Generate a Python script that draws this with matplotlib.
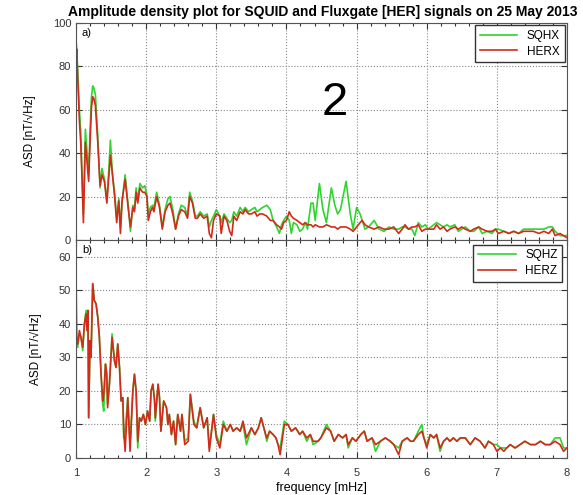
import matplotlib
matplotlib.use("Agg")
import matplotlib.pyplot as plt
import numpy as np

plt.rcParams['font.family'] = ['Liberation Sans', 'DejaVu Sans']

# ---------- data ----------
# panel a) : SQHX (green) and HERX (red)
f_a = [1.00, 1.01, 1.024, 1.048, 1.067, 1.086, 1.105, 1.133, 1.152, 1.18, 1.20, 1.22, 1.238, 1.255,
       1.276, 1.31, 1.343, 1.37, 1.405, 1.44, 1.47, 1.49, 1.52, 1.55, 1.58, 1.61, 1.633, 1.657,
       1.70, 1.743, 1.776, 1.81, 1.833, 1.857, 1.88, 1.91, 1.95, 1.98, 2.01, 2.03, 2.06, 2.09, 2.11,
       2.15, 2.19, 2.23, 2.27, 2.31, 2.34, 2.38, 2.42, 2.46, 2.50, 2.55, 2.59, 2.62, 2.66, 2.70,
       2.73, 2.77, 2.82, 2.87, 2.90, 2.93, 2.96, 3.00, 3.05, 3.07, 3.11, 3.15, 3.19, 3.22, 3.25,
       3.29, 3.34, 3.38, 3.41, 3.46, 3.50, 3.55, 3.58, 3.62, 3.66, 3.72, 3.77, 3.81, 3.86, 3.90,
       3.93, 3.96, 4.00, 4.04, 4.07, 4.10, 4.15, 4.19, 4.23, 4.27, 4.30, 4.35, 4.38, 4.41, 4.47,
       4.52, 4.57, 4.64, 4.69, 4.73, 4.77, 4.85, 4.91, 4.95, 5.00, 5.05, 5.08, 5.12, 5.17, 5.25,
       5.32, 5.39, 5.46, 5.53, 5.60, 5.65, 5.69, 5.74, 5.79, 5.83, 5.88, 5.93, 5.98, 6.02, 6.10,
       6.14, 6.19, 6.24, 6.29, 6.33, 6.40, 6.45, 6.50, 6.55, 6.62, 6.67, 6.74, 6.79, 6.86, 6.93,
       6.98, 7.02, 7.10, 7.17, 7.24, 7.31, 7.38, 7.45, 7.52, 7.60, 7.67, 7.74, 7.79, 7.83, 7.90,
       7.95, 8.00]
sqhx = [92, 88, 78, 60, 50, 30, 12, 51, 43, 30, 50, 66, 71, 70,
        67, 48, 24, 33, 28, 18, 34, 46, 30, 22, 10, 19, 6, 18,
        30, 16, 4, 16, 14, 24, 18, 26, 24, 25, 21, 12, 15, 16, 15,
        22, 16, 6, 14, 19, 20, 14, 5, 12, 16, 15, 11, 22, 18, 11,
        11, 13, 11, 12, 6, 9, 11, 14, 11, 8, 12, 10, 8, 9, 13,
        11, 15, 13, 15, 13, 14, 15, 13, 14, 15, 16, 14, 9, 6, 3,
        7, 9, 11, 9, 3, 8, 7, 4, 5, 8, 5, 17, 17, 9, 26,
        14, 8, 24, 16, 12, 14, 27, 12, 5, 15, 12, 9, 5, 6, 9,
        5, 4, 6, 5, 5, 6, 6, 5, 5, 2, 8, 6, 7, 5, 7,
        8, 7, 6, 7, 6, 7, 4, 5, 6, 4, 4, 6, 3, 4, 3,
        5, 5, 4, 3, 4, 3, 5, 5, 5, 5, 5, 6, 6, 4, 2,
        2, 2]
herx = [80, 88, 75, 55, 45, 28, 8, 45, 38, 27, 45, 61, 66, 65,
        62, 45, 25, 30, 27, 17, 30, 39, 30, 20, 8, 18, 3, 18,
        28, 15, 6, 15, 13, 22, 17, 24, 22, 22, 20, 9, 13, 15, 13,
        20, 15, 5, 13, 16, 17, 12, 5, 11, 14, 13, 10, 20, 17, 10,
        10, 12, 10, 11, 3, 1, 9, 12, 11, 3, 11, 9, 4, 2, 11,
        9, 13, 12, 14, 12, 12, 13, 11, 12, 12, 11, 9, 9, 7, 6,
        5, 8, 9, 13, 11, 10, 9, 8, 7, 8, 7, 7, 6, 7, 6,
        6, 7, 6, 6, 5, 6, 6, 5, 4, 6, 8, 9, 7, 6, 5,
        6, 5, 5, 6, 3, 5, 7, 5, 6, 6, 7, 4, 5, 5, 5,
        7, 5, 6, 4, 5, 6, 5, 6, 5, 4, 5, 6, 5, 4, 4,
        5, 3, 4, 3, 4, 3, 4, 4, 4, 3, 4, 3, 5, 2, 3,
        2, 1]

# panel b) : SQHZ (green) and HERZ (red)
f_b = [1.00, 1.01, 1.024, 1.048, 1.07, 1.095, 1.12, 1.143, 1.157, 1.17, 1.18, 1.20, 1.214, 1.238,
       1.26, 1.285, 1.31, 1.333, 1.357, 1.38, 1.395, 1.42, 1.438, 1.45, 1.476, 1.514, 1.548, 1.57,
       1.595, 1.62, 1.643, 1.667, 1.68, 1.70, 1.738, 1.77, 1.81, 1.833, 1.857, 1.88, 1.905, 1.93,
       1.96, 1.99, 2.02, 2.05, 2.07, 2.095, 2.12, 2.13, 2.17, 2.19, 2.21, 2.25, 2.29, 2.31, 2.33,
       2.36, 2.39, 2.42, 2.45, 2.49, 2.51, 2.55, 2.60, 2.63, 2.68, 2.72, 2.77, 2.82, 2.87, 2.90,
       2.96, 3.00, 3.05, 3.10, 3.15, 3.20, 3.24, 3.29, 3.34, 3.38, 3.43, 3.50, 3.55, 3.60, 3.64,
       3.69, 3.72, 3.76, 3.81, 3.85, 3.88, 3.91, 3.97, 4.02, 4.07, 4.13, 4.19, 4.23, 4.29, 4.34,
       4.38, 4.45, 4.49, 4.57, 4.63, 4.68, 4.74, 4.80, 4.85, 4.88, 4.94, 4.99, 5.06, 5.11, 5.15,
       5.22, 5.27, 5.34, 5.41, 5.48, 5.53, 5.60, 5.65, 5.72, 5.77, 5.81, 5.88, 5.93, 5.96, 6.00,
       6.05, 6.10, 6.14, 6.19, 6.24, 6.29, 6.33, 6.38, 6.43, 6.48, 6.55, 6.62, 6.69, 6.76, 6.83,
       6.88, 6.95, 7.00, 7.05, 7.10, 7.14, 7.19, 7.26, 7.33, 7.40, 7.48, 7.55, 7.62, 7.69, 7.76,
       7.83, 7.90, 7.95, 8.00]
sqhz = [38, 35, 33, 37, 36, 32, 40, 44, 38, 44, 12, 35, 30, 52,
        47, 46, 42, 36, 25, 16, 14, 28, 25, 16, 22, 37, 29, 27,
        34, 27, 17, 18, 6, 8, 18, 4, 20, 25, 20, 3, 12, 11,
        13, 10, 14, 11, 20, 22, 17, 11, 22, 18, 8, 17, 15, 10, 13,
        7, 11, 4, 13, 8, 13, 5, 6, 19, 11, 9, 15, 9, 12, 3,
        13, 7, 4, 11, 8, 10, 8, 9, 8, 10, 4, 9, 7, 9, 12,
        8, 5, 8, 7, 6, 4, 3, 11, 10, 8, 9, 7, 8, 5, 7,
        4, 5, 6, 10, 8, 5, 7, 6, 7, 3, 6, 5, 7, 8, 5,
        6, 2, 5, 6, 5, 4, 3, 5, 6, 5, 5, 8, 10, 6, 4,
        7, 6, 7, 2, 5, 6, 5, 6, 5, 6, 6, 4, 6, 5, 3,
        5, 4, 4, 3, 3, 3, 4, 3, 4, 5, 4, 4, 5, 4, 4,
        6, 6, 3, 3]
herz = [55, 36, 34, 38, 36, 33, 40, 43, 38, 44, 12, 35, 30, 52,
        47, 46, 42, 36, 25, 17, 19, 28, 25, 15, 22, 36, 29, 27,
        34, 27, 17, 18, 8, 2, 18, 2, 20, 25, 20, 5, 12, 11,
        13, 10, 14, 11, 20, 22, 17, 12, 22, 18, 8, 17, 15, 10, 13,
        7, 11, 4, 13, 8, 13, 4, 5, 19, 10, 9, 15, 9, 12, 2,
        13, 6, 3, 10, 8, 10, 8, 9, 8, 11, 6, 9, 7, 9, 12,
        8, 6, 8, 7, 6, 4, 1, 10, 10, 8, 9, 7, 8, 6, 7,
        5, 5, 6, 9, 8, 5, 7, 6, 7, 4, 6, 5, 7, 8, 5,
        6, 4, 5, 6, 5, 4, 1, 5, 6, 5, 5, 7, 8, 6, 3,
        7, 6, 7, 3, 5, 6, 5, 6, 5, 6, 6, 4, 6, 5, 3,
        5, 4, 2, 3, 2, 3, 4, 3, 4, 5, 4, 4, 5, 4, 4,
        5, 4, 2, 3]

green = '#2fd42f'
red = '#d42a1c'

fig = plt.figure(figsize=(5.83, 4.95), dpi=100)
ax1 = fig.add_axes([0.1304, 0.5152, 0.8422, 0.4384])
ax2 = fig.add_axes([0.1304, 0.0747, 0.8422, 0.4405])


def style(ax, ymax, ystep):
    ax.set_xlim(1, 8)
    ax.set_ylim(0, ymax)
    ax.set_xticks(np.arange(1, 9, 1))
    ax.set_xticks(np.arange(1, 8.01, 0.2), minor=True)
    ax.set_yticks(np.arange(0, ymax + 0.1, ystep))
    ax.tick_params(which='both', direction='in', top=True, right=True,
                   labelsize=8, colors='#333333', width=0.8)
    ax.tick_params(which='major', length=4)
    ax.tick_params(which='minor', length=2)
    ax.tick_params(axis='x', pad=7)
    ax.grid(True, which='major', linestyle=':', color='#888888', linewidth=0.8)
    for s in ax.spines.values():
        s.set_color('#555555')
        s.set_linewidth(0.8)


ax1.plot(f_a, sqhx, color=green, lw=1.2, label='SQHX')
ax1.plot(f_a, herx, color=red, lw=1.2, label='HERX')
style(ax1, 100, 20)
ax1.tick_params(labelbottom=False)
ax1.set_ylabel('ASD [nT/\u221aHz]', fontsize=8.5, labelpad=12)
ax1.text(0.012, 0.975, 'a)', transform=ax1.transAxes, fontsize=8, va='top')
ax1.legend(loc='upper right', fontsize=8.5, fancybox=False, edgecolor='#333333',
           framealpha=1, handlelength=3.2, borderaxespad=0.2, labelspacing=0.3)

ax2.plot(f_b, sqhz, color=green, lw=1.2, label='SQHZ')
ax2.plot(f_b, herz, color=red, lw=1.2, label='HERZ')
style(ax2, 65, 10)
ax2.set_yticks(np.arange(0, 61, 10))
ax2.set_ylabel('ASD [nT/\u221aHz]', fontsize=8.5, labelpad=12)
ax2.set_xlabel('frequency [mHz]', fontsize=9, labelpad=3)
ax2.text(0.012, 0.975, 'b)', transform=ax2.transAxes, fontsize=8, va='top')
ax2.legend(loc='upper right', fontsize=8.5, fancybox=False, edgecolor='#333333',
           framealpha=1, handlelength=3.2, borderaxespad=0.4, labelspacing=0.3)

fig.suptitle('Amplitude density plot for SQUID and Fluxgate [HER] signals on 25 May 2013',
             x=0.553, y=0.99, fontsize=10, fontweight='bold')
fig.text(0.575, 0.792, '2', fontsize=34, ha='center', va='center')

fig.savefig('out.png', dpi=100)
